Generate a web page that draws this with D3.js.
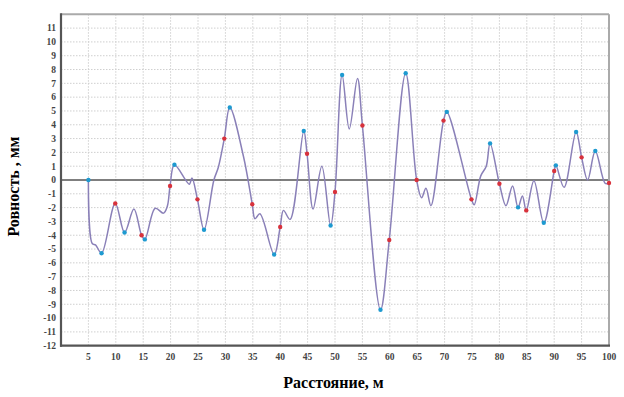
<!DOCTYPE html>
<html><head><meta charset="utf-8">
<script src="https://cdn.jsdelivr.net/npm/d3@7"></script>
<style>body{margin:0;background:#fff}svg{display:block}</style>
</head><body>
<script>
const curveX=[5,5.7,6.3,7.4,9.9,11.6,13.3,14.7,15.3,17.2,18.7,19.4,19.9,20.7,23.4,23.9,24.9,26.1,27.9,28.7,29.8,30.8,33.3,34.9,35.4,36.3,38.9,40,40.6,41.8,44.3,44.9,46.0,47.6,49.2,50.0,51.3,52.6,54.1,55.0,58.3,59.9,62.9,64.9,65.8,66.6,67.5,69.8,70.4,74.9,75.4,76.6,77.6,78.3,80.0,81.2,82.4,83.4,84.2,84.9,86.3,88.1,90.0,90.3,91.8,94.0,95.0,96.1,97.5,99.3,100];
const curveY=[0,-4.6,-4.7,-5.3,-1.7,-3.8,-2.1,-4.0,-4.3,-2.05,-2.4,-1.9,-0.43,1.1,-0.3,0.15,-1.4,-3.6,0,0.9,3.0,5.25,1.7,-1.76,-2.8,-2.45,-5.4,-3.4,-2.2,-2.85,3.55,1.9,-2.1,1.0,-3.3,-0.87,7.6,3.7,7.35,3.95,-9.4,-4.35,7.73,0,-1.28,-0.6,-1.86,4.3,4.93,-1.4,-1.8,0.3,1.0,2.65,-0.27,-1.86,-0.43,-1.98,-1.16,-2.2,-0.05,-3.1,0.65,1.06,-0.53,3.48,1.64,0,2.1,-0.24,-0.22];
const blueX=[5,7.4,11.6,15.3,20.7,26.1,30.8,38.9,44.3,49.2,51.3,58.3,62.9,70.4,78.3,83.4,88.1,90.3,94.0,97.5];
const blueY=[0,-5.3,-3.8,-4.3,1.1,-3.6,5.25,-5.4,3.55,-3.3,7.6,-9.4,7.73,4.93,2.65,-1.98,-3.1,1.06,3.48,2.1];
const redX=[9.9,14.7,19.9,24.9,29.8,34.9,40,44.9,50,55,59.9,64.9,69.8,74.9,80,84.9,90,95,100];
const redY=[-1.7,-4.0,-0.43,-1.4,3.0,-1.76,-3.4,1.9,-0.87,3.95,-4.35,0,4.3,-1.4,-0.27,-2.2,0.65,1.64,-0.22];
const xTicks=d3.range(5,101,5);
const yTicks=d3.range(-12,12,1);
const xTitle="Расстояние, м";
const yTitle="Ровность , мм";

const W=624,H=397;
const svg=d3.select("body").append("svg").attr("width",W).attr("height",H);
const x=d3.scaleLinear().domain([0,100]).range([61,609]);
const y=d3.scaleLinear().domain([-12,12]).range([345.7,14.3]);

const g=svg.append("g");
// grid
g.selectAll(".hg").data(yTicks.filter(d=>d>-12&&d!==0)).enter().append("line")
 .attr("x1",x(0)).attr("x2",x(100)).attr("y1",d=>y(d)).attr("y2",d=>y(d))
 .attr("stroke","#cfcfcf").attr("stroke-width",1).attr("stroke-dasharray","1.5,1.5");
g.selectAll(".vg").data(xTicks.filter(d=>d<100)).enter().append("line")
 .attr("y1",y(-12)).attr("y2",y(12)).attr("x1",d=>x(d)).attr("x2",d=>x(d))
 .attr("stroke","#cfcfcf").attr("stroke-width",1).attr("stroke-dasharray","1.5,1.5");
// zero line
g.append("line").attr("x1",x(0)).attr("x2",x(100)).attr("y1",y(0)).attr("y2",y(0))
 .attr("stroke","#555").attr("stroke-width",1.3);
// borders
g.append("line").attr("x1",x(0)).attr("x2",x(100)).attr("y1",y(12)).attr("y2",y(12)).attr("stroke","#aaa").attr("stroke-width",2);
g.append("line").attr("x1",x(100)).attr("x2",x(100)).attr("y1",y(12)).attr("y2",y(-12)).attr("stroke","#aaa").attr("stroke-width",2);
g.append("line").attr("x1",x(0)).attr("x2",x(0)).attr("y1",y(12)-1).attr("y2",y(-12)+1).attr("stroke","#555").attr("stroke-width",2.2);
g.append("line").attr("x1",x(0)-1).attr("x2",x(100)+1).attr("y1",y(-12)).attr("y2",y(-12)).attr("stroke","#555").attr("stroke-width",2.2);

// tick labels
g.selectAll(".yt").data(yTicks.filter(d=>d<=11)).enter().append("text")
 .attr("x",x(0)-5).attr("y",d=>y(d)).attr("dy","0.35em").attr("text-anchor","end")
 .attr("font-family","Liberation Serif, serif").attr("font-weight","bold").attr("font-size",9.5).attr("fill","#444")
 .text(d=>d);
g.selectAll(".xt").data(xTicks).enter().append("text")
 .attr("x",d=>x(d)).attr("y",y(-12)+14).attr("text-anchor","middle")
 .attr("font-family","Liberation Serif, serif").attr("font-weight","bold").attr("font-size",9.5).attr("fill","#444")
 .text(d=>d);

// curve
const pts=curveX.map((d,i)=>[d,curveY[i]]);
const line=d3.line().x(d=>x(d[0])).y(d=>y(d[1])).curve(d3.curveCatmullRom.alpha(0.5));
g.append("path").attr("d",line(pts)).attr("fill","none").attr("stroke","#8a80b8").attr("stroke-width",1.5);

// markers
g.selectAll(".bm").data(blueX.map((d,i)=>[d,blueY[i]])).enter().append("circle")
 .attr("cx",d=>x(d[0])).attr("cy",d=>y(d[1])).attr("r",2.2).attr("fill","#1e9ad0");
g.selectAll(".rm").data(redX.map((d,i)=>[d,redY[i]])).enter().append("circle")
 .attr("cx",d=>x(d[0])).attr("cy",d=>y(d[1])).attr("r",2.2).attr("fill","#d8323c");

// titles
svg.append("text").attr("x",333.5).attr("y",388).attr("text-anchor","middle")
 .attr("font-family","Liberation Serif, serif").attr("font-weight","bold").attr("font-size",16).attr("fill","#000")
 .text(xTitle);
svg.append("text").attr("transform","translate(18.5,186.5) rotate(-90)").attr("text-anchor","middle")
 .attr("font-family","Liberation Serif, serif").attr("font-weight","bold").attr("font-size",16).attr("fill","#000")
 .text(yTitle);
</script>
</body></html>
